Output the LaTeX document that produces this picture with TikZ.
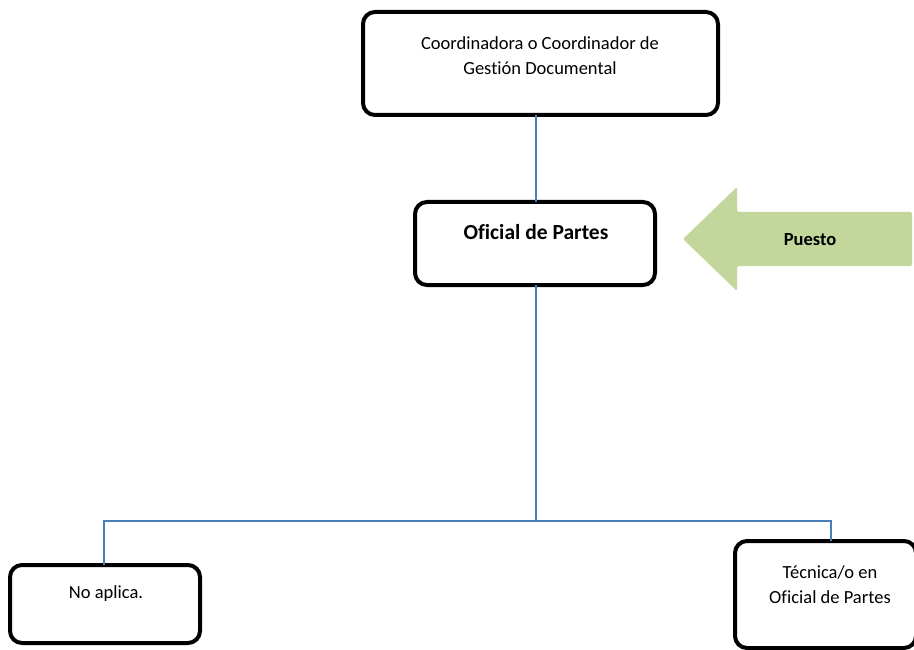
\documentclass[tikz,border=0pt]{standalone}
\usepackage{fontspec}
\setmainfont{Carlito}[Ligatures=CommonOff]
\usetikzlibrary{shapes.arrows}
\definecolor{linkblue}{HTML}{4A7EBB}
\definecolor{arrowgreen}{HTML}{C3D69B}
\tikzset{
  orgbox/.style={draw=black, line width=4pt, rounded corners=12pt, fill=white},
  link/.style={draw=linkblue, line width=1.3pt},
  lbl/.style={font=\fontsize{18.5}{25}\selectfont, align=center, inner sep=0pt},
  blbl/.style={font=\fontsize{18.5}{22}\selectfont\bfseries, align=center, inner sep=0pt},
  bigblbl/.style={font=\fontsize{21.5}{25}\selectfont\bfseries, align=center, inner sep=0pt}
}
\begin{document}
\begin{tikzpicture}[x=1pt,y=-1pt]
\useasboundingbox (0,0) rectangle (914,650);
% boxes
\draw[orgbox] (363,12) rectangle (718,115);
\coordinate (topB) at (536,115);
\node[lbl] (top) at (540,56) {Coordinadora o Coordinador de\\Gestión Documental};
\draw[orgbox] (415,202) rectangle (655,285);
\coordinate (midT) at (536,202);
\coordinate (midB) at (536,285);
\node[bigblbl] (mid) at (536,232) {Oficial de Partes};
\draw[orgbox] (10,565) rectangle (200,643);
\coordinate (leftT) at (104,565);
\node[lbl] (left) at (106,594) {No aplica.};
\draw[orgbox] (735,541) rectangle (916,648);
\coordinate (rightT) at (831,541);
\node[lbl] (right) at (830,585) {Técnica/o en\\Oficial de Partes};
% arrow
\fill[arrowgreen, rounded corners=1.5pt] (683,239) -- (737,187) -- (737,212) -- (912,212) -- (912,266) -- (737,266) -- (737,291) -- cycle;
\node[blbl] (puesto) at (810,240) {Puesto};
% connectors
\coordinate (junc) at (536,521);
\draw[link] (topB) -- (midT);
\draw[link] (midB) -- (junc);
\draw[link] (leftT) |- (junc) -| (rightT);
\end{tikzpicture}
\end{document}
